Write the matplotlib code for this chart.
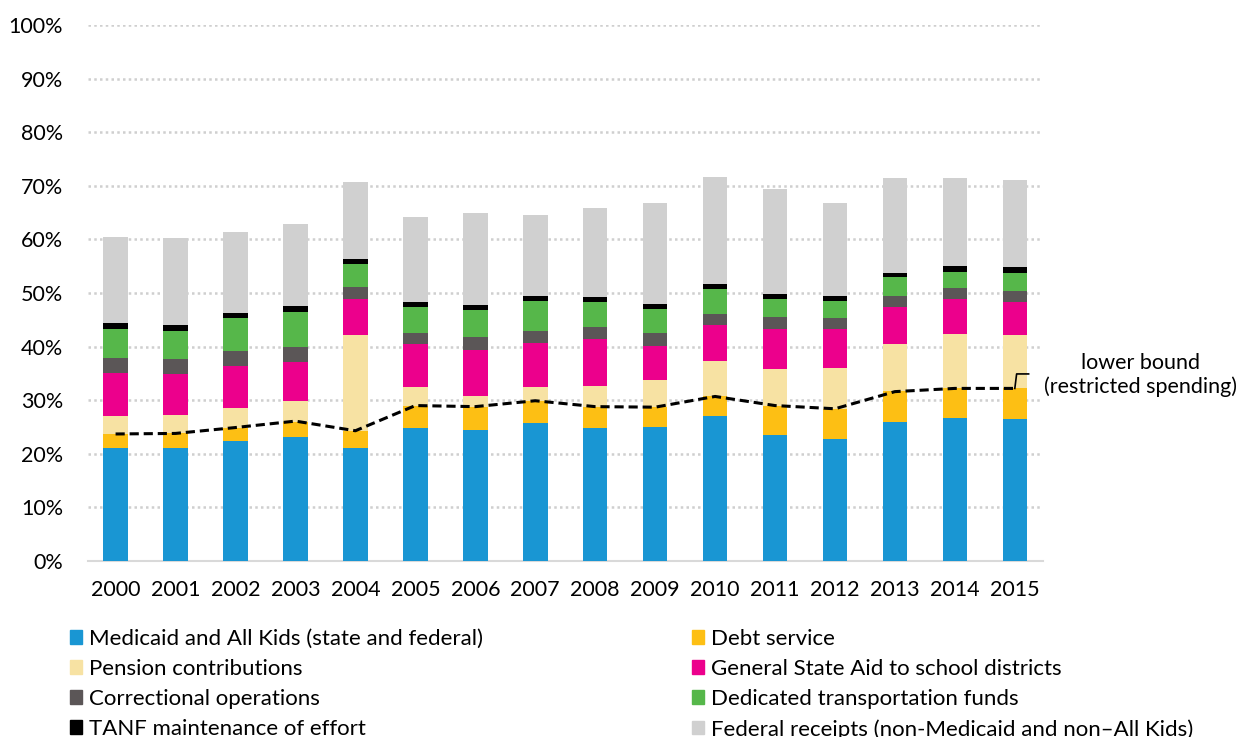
import matplotlib
matplotlib.use('Agg')
import matplotlib.pyplot as plt
import matplotlib.patches as mpatches
import numpy as np

plt.rcParams['font.family'] = ['Lato', 'DejaVu Sans']

years = ['2000', '2001', '2002', '2003', '2004', '2005', '2006', '2007',
         '2008', '2009', '2010', '2011', '2012', '2013', '2014', '2015']

# shares of spending, in percent
medicaid = [21.1, 21.1, 22.3, 23.1, 21.0, 24.9, 24.5, 25.8, 24.9, 25.0, 27.1, 23.5, 22.8, 26.0, 26.7, 26.4]
debt = [2.6, 2.7, 2.6, 2.9, 3.3, 4.1, 4.3, 4.1, 3.9, 3.7, 3.6, 5.5, 5.6, 5.7, 5.5, 5.8]
pension = [3.4, 3.5, 3.6, 3.9, 17.9, 3.5, 1.9, 2.6, 3.9, 5.0, 6.7, 6.8, 7.7, 8.8, 10.2, 10.0]
gsa = [7.9, 7.6, 7.8, 7.2, 6.7, 7.9, 8.6, 8.2, 8.7, 6.5, 6.6, 7.4, 7.1, 6.9, 6.5, 6.2]
corrections = [2.8, 2.8, 2.8, 2.9, 2.2, 2.2, 2.4, 2.3, 2.3, 2.4, 2.1, 2.4, 2.1, 2.0, 2.1, 2.0]
transport = [5.5, 5.3, 6.2, 6.5, 4.4, 4.8, 5.2, 5.5, 4.6, 4.4, 4.6, 3.2, 3.2, 3.5, 3.0, 3.3]
tanf = [1.1, 1.0, 1.0, 1.0, 0.8, 0.9, 0.9, 0.9, 1.0, 0.9, 0.9, 1.1, 0.9, 0.9, 1.0, 1.1]
federal = [16.1, 16.2, 15.0, 15.4, 14.5, 15.8, 17.1, 15.2, 16.6, 18.8, 20.1, 19.5, 17.3, 17.7, 16.4, 16.2]
lower_bound = [23.7, 23.8, 24.9, 26.1, 24.3, 29.0, 28.8, 29.9, 28.8, 28.7, 30.7, 29.0, 28.4, 31.6, 32.2, 32.2]

series = [
    ('Medicaid and All Kids (state and federal)', medicaid, '#1996d3'),
    ('Debt service', debt, '#fdbf14'),
    ('Pension contributions', pension, '#f7e2a3'),
    ('General State Aid to school districts', gsa, '#ec008c'),
    ('Correctional operations', corrections, '#5b5657'),
    ('Dedicated transportation funds', transport, '#56b74a'),
    ('TANF maintenance of effort', tanf, '#000000'),
    ('Federal receipts (non-Medicaid and non\u2013All Kids)', federal, '#d0d0d0'),
]

fs = 15.5
fig = plt.figure(figsize=(12.45, 7.37), dpi=100)
ax = fig.add_axes([88 / 1245, 1 - 561 / 737, (1043 - 88) / 1245, (561 - 25) / 737])

x = np.arange(len(years))
bottom = np.zeros(len(years))
handles = []
for label, vals, color in series:
    ax.bar(x, vals, 0.41, bottom=bottom, color=color, linewidth=0, zorder=3)
    bottom += np.array(vals)
    handles.append(mpatches.Patch(color=color, label=label))

ax.plot(x, lower_bound, color='black', lw=2.2, linestyle=(0, (3, 1.6)), zorder=4)

# leader to the annotation
ax.plot([15.0, 15.03, 15.23], [lower_bound[-1], 34.9, 34.9], color='black', lw=1.2,
        clip_on=False, zorder=4)
ax.text(17.1, 34.7, 'lower bound\n(restricted spending)', ha='center', va='center',
        fontsize=fs, linespacing=1.2, clip_on=False)

ax.set_xlim(-0.46, 15.47)
ax.set_ylim(0, 100)
ax.set_yticks(np.arange(0, 101, 10))
ax.set_yticklabels([f'{v}%' for v in range(0, 101, 10)])
ax.set_xticks(x)
ax.set_xticklabels(years)
ax.tick_params(axis='both', length=0, labelsize=fs)
ax.tick_params(axis='y', pad=18)
ax.tick_params(axis='x', pad=14)

for y in range(10, 101, 10):
    ax.axhline(y, color='#cfcfcf', lw=1.8, linestyle=(0, (1, 1.3)), zorder=1)

for s in ['top', 'right', 'left']:
    ax.spines[s].set_visible(False)
ax.spines['bottom'].set_color('#d9d9d9')
ax.spines['bottom'].set_linewidth(1.5)

# two legend columns placed by hand, filled row-wise
left = [handles[i] for i in (0, 2, 4, 6)]
right = [handles[i] for i in (1, 3, 5, 7)]
leg_kw = dict(loc='upper left', frameon=False, fontsize=16, handlelength=0.55,
              handleheight=0.55, handletextpad=0.3, labelspacing=0.45,
              borderpad=0, borderaxespad=0)
fig.legend(handles=left, bbox_to_anchor=(70 / 1245, 1 - 629 / 737), **leg_kw)
fig.legend(handles=right, bbox_to_anchor=(692 / 1245, 1 - 629 / 737), **leg_kw)

fig.savefig('out.png', dpi=100)
plt.close(fig)
